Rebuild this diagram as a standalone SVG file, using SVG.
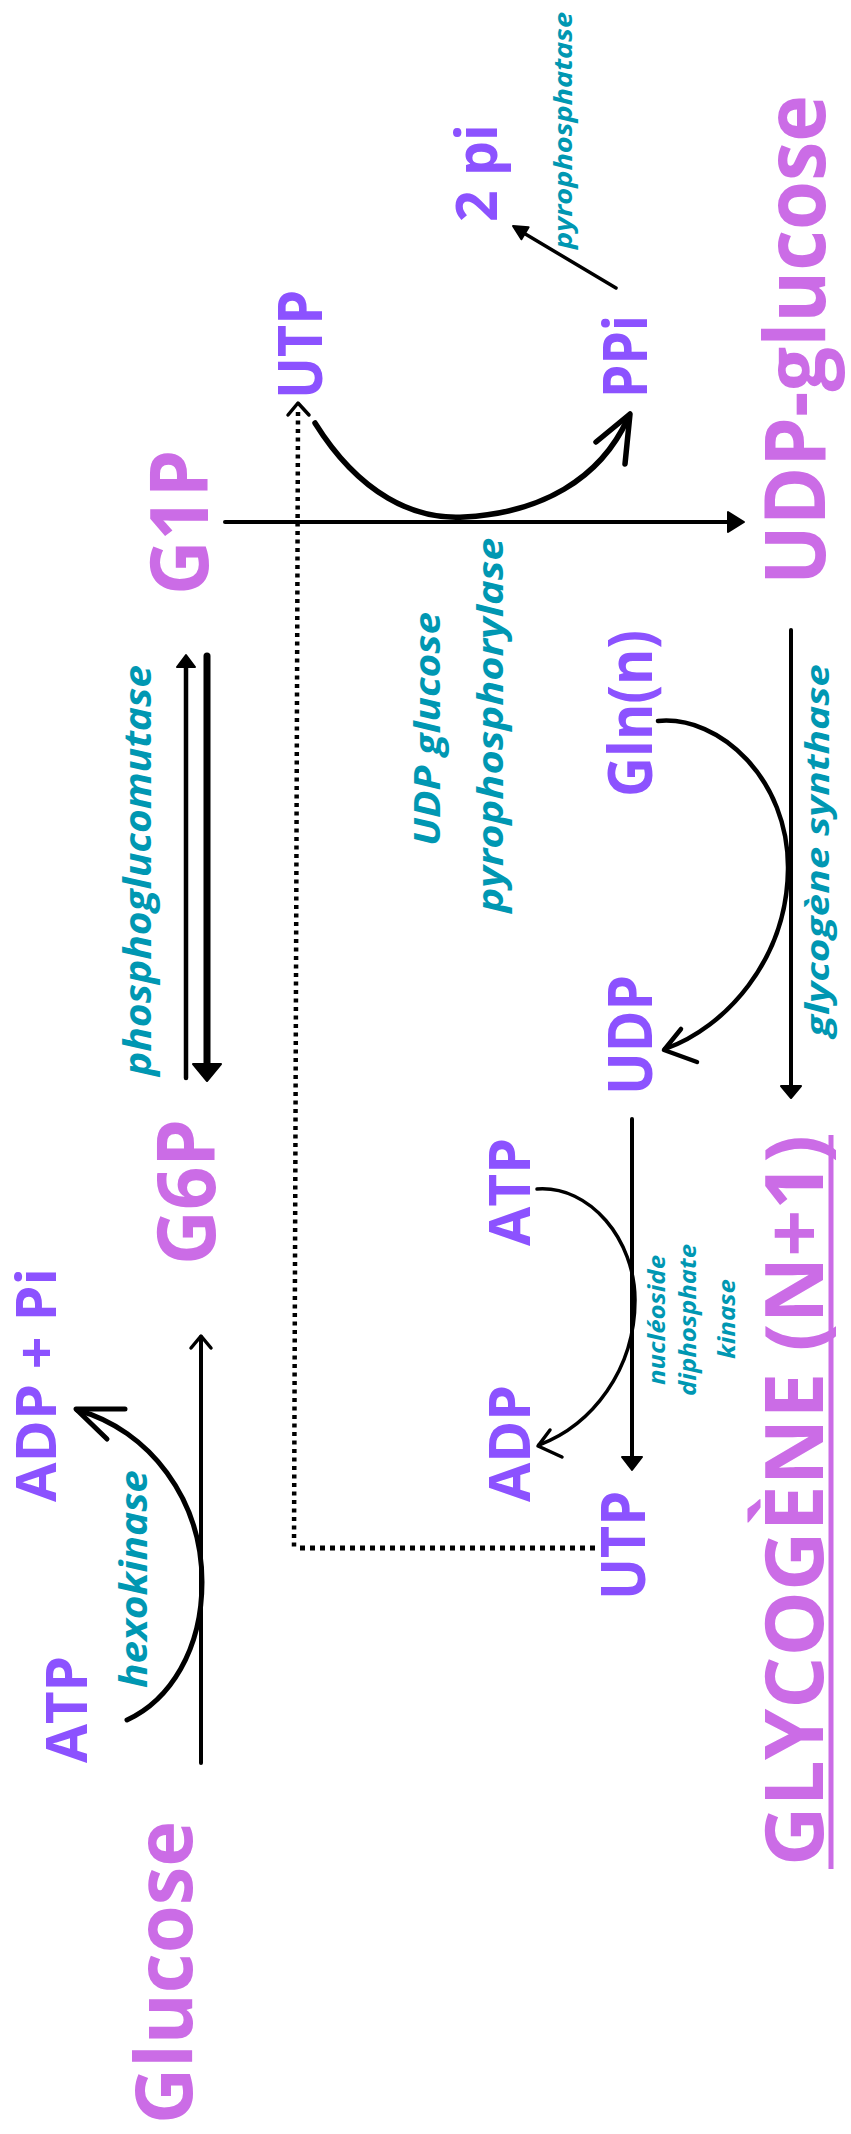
<svg xmlns="http://www.w3.org/2000/svg" width="851" height="2134" viewBox="0 0 851 2134">
<style>
.t{font-family:"Open Sans","Liberation Sans",sans-serif;font-weight:700;}
.pk{fill:#cb6ce6;}
.pu{fill:#8c52ff;}
.en{font-family:"Open Sans","Liberation Sans",sans-serif;font-weight:700;font-style:italic;fill:#0097b2;}
.ln{fill:none;stroke:#000;stroke-linecap:round;stroke-linejoin:round;}
.hd{fill:#000;stroke:#000;stroke-linejoin:round;stroke-width:2;}
.dot{fill:none;stroke:#000;stroke-linecap:butt;}
</style>
<rect width="851" height="2134" fill="#fff"/>
<g id="connectors">
  <!-- hexokinase -->
  <path class="ln" d="M201,1763 V1337" stroke-width="4"/>
  <path class="ln" d="M191,1348 L201,1336 L211,1348" stroke-width="3.5"/>
  <path class="ln" d="M127,1720 C170,1700 202,1650 202,1582 C202,1500 150,1430 77,1410" stroke-width="5"/>
  <path class="ln" d="M125,1409 L76,1409 L107,1439" stroke-width="5"/>
  <!-- phosphoglucomutase -->
  <path class="ln" d="M186,1078 V666" stroke-width="4.5"/>
  <polygon class="hd" points="186,655 177,667 195,667"/>
  <path class="ln" d="M207,656 V1066" stroke-width="7"/>
  <polygon class="hd" points="207,1081 193,1064 221,1064" stroke-width="3"/>
  <!-- G1P to UDP-glucose -->
  <path class="ln" d="M225,522 H730" stroke-width="4"/>
  <polygon class="hd" points="744,522 728,512 728,532"/>
  <!-- UTP to PPi -->
  <path class="ln" d="M315,423 C360,495 415,520 464,517 C540,513 600,480 628,418" stroke-width="5.5"/>
  <path class="ln" d="M596,442 L630,414 L625,464" stroke-width="5.5"/>
  <!-- PPi to 2 pi -->
  <path class="ln" d="M616,288 L522,232" stroke-width="3.5"/>
  <polygon class="hd" points="513,226 528.6,227.2 521.4,239.2"/>
  <!-- dotted UTP regeneration -->
  <path class="dot" d="M298,412 L294,1548" stroke-width="4.5" stroke-dasharray="4,4.5"/>
  <path class="dot" d="M300,1548 H597" stroke-width="5" stroke-dasharray="5,5"/>
  <path class="ln" d="M288,415 L298,403 L309,415" stroke-width="3.5"/>
  <!-- glycogene synthase -->
  <path class="ln" d="M791,630 V1086" stroke-width="4"/>
  <polygon class="hd" points="791,1098 781,1086 801,1086"/>
  <path class="ln" d="M658,721 C720,715 789,780 788,869 C787,960 725,1028 665,1049" stroke-width="4.5"/>
  <path class="ln" d="M681,1029 L664,1050 L697,1062" stroke-width="4.5"/>
  <!-- nucleoside diphosphate kinase -->
  <path class="ln" d="M632,1119 V1458" stroke-width="4"/>
  <polygon class="hd" points="632,1470 622,1457 642,1457"/>
  <path class="ln" d="M537,1189 C590,1185 635,1240 635,1300 C635,1370 592,1425 539,1445" stroke-width="3.5"/>
  <path class="ln" d="M550,1430 L538,1446 L562,1457" stroke-width="3.5"/>
</g>
<g id="glucose"><text class="t pk" font-size="78" transform="translate(192,2124) rotate(-90)" textLength="303" lengthAdjust="spacingAndGlyphs">Glucose</text></g>
<g id="atp1"><text class="t pu" font-size="58" transform="translate(87,1763) rotate(-90)" textLength="107" lengthAdjust="spacingAndGlyphs">ATP</text></g>
<g id="hexokinase"><text class="en" font-size="38" transform="translate(147,1688) rotate(-90)" textLength="218" lengthAdjust="spacingAndGlyphs">hexokinase</text></g>
<g id="adppi"><text class="t pu" font-size="56" transform="translate(56,1502) rotate(-90)" textLength="234" lengthAdjust="spacingAndGlyphs">ADP + Pi</text></g>
<g id="g6p"><text class="t pk" font-size="80" transform="translate(215,1265) rotate(-90)" textLength="146" lengthAdjust="spacingAndGlyphs">G6P</text></g>
<g id="phosphoglucomutase"><text class="en" font-size="38" transform="translate(151,1076) rotate(-90)" textLength="411" lengthAdjust="spacingAndGlyphs">phosphoglucomutase</text></g>
<g id="g1p"><text class="t pk" font-size="80" transform="translate(208,595) rotate(-90)" textLength="145" lengthAdjust="spacingAndGlyphs">G1P</text></g>
<g id="utp1"><text class="t pu" font-size="60" transform="translate(322,399) rotate(-90)" textLength="109" lengthAdjust="spacingAndGlyphs">UTP</text></g>
<g id="ppi"><text class="t pu" font-size="60" transform="translate(647,398) rotate(-90)" textLength="83" lengthAdjust="spacingAndGlyphs">PPi</text></g>
<g id="twopi"><text class="t pu" font-size="58" transform="translate(497,222) rotate(-90)" textLength="98" lengthAdjust="spacingAndGlyphs">2 pi</text></g>
<g id="pyrophosphatase"><text class="en" font-size="25" transform="translate(572,249) rotate(-90)" textLength="237" lengthAdjust="spacingAndGlyphs">pyrophosphatase</text></g>
<g id="udpglucose"><text class="t pk" font-size="84" transform="translate(825,585) rotate(-90)" textLength="490" lengthAdjust="spacingAndGlyphs">UDP-glucose</text></g>
<g id="udpgpp">
  <text class="en" font-size="36" text-anchor="middle" transform="translate(440,729) rotate(-90)" textLength="234" lengthAdjust="spacingAndGlyphs">UDP glucose</text>
  <text class="en" font-size="36" text-anchor="middle" transform="translate(503,725) rotate(-90)" textLength="375" lengthAdjust="spacingAndGlyphs">pyrophosphorylase</text>
</g>
<g id="glnn"><text class="t pu" font-size="60" transform="translate(652,797) rotate(-90)" textLength="167" lengthAdjust="spacingAndGlyphs">Gln(n)</text></g>
<g id="glycogenesynthase"><text class="en" font-size="32" transform="translate(829,1037) rotate(-90)" textLength="373" lengthAdjust="spacingAndGlyphs">glycogène synthase</text></g>
<g id="udp"><text class="t pu" font-size="60" transform="translate(652,1095) rotate(-90)" textLength="120" lengthAdjust="spacingAndGlyphs">UDP</text></g>
<g id="atp2"><text class="t pu" font-size="58" transform="translate(530,1246) rotate(-90)" textLength="108" lengthAdjust="spacingAndGlyphs">ATP</text></g>
<g id="adp2"><text class="t pu" font-size="58" transform="translate(530,1502) rotate(-90)" textLength="117" lengthAdjust="spacingAndGlyphs">ADP</text></g>
<g id="utp2"><text class="t pu" font-size="60" transform="translate(645,1600) rotate(-90)" textLength="109" lengthAdjust="spacingAndGlyphs">UTP</text></g>
<g id="ndpk">
  <text class="en" font-size="24" text-anchor="middle" transform="translate(665,1320) rotate(-90)" textLength="130" lengthAdjust="spacingAndGlyphs">nucléoside</text>
  <text class="en" font-size="24" text-anchor="middle" transform="translate(696,1320) rotate(-90)" textLength="152" lengthAdjust="spacingAndGlyphs">diphosphate</text>
  <text class="en" font-size="24" text-anchor="middle" transform="translate(735,1319) rotate(-90)" textLength="80" lengthAdjust="spacingAndGlyphs">kinase</text>
</g>
<g id="glycogene">
  <text class="t pk" font-size="81" transform="translate(823,1866) rotate(-90)" textLength="731" lengthAdjust="spacingAndGlyphs">GLYCOGÈNE (N+1)</text>
  <line x1="831" y1="1135" x2="831" y2="1869" stroke="#cb6ce6" stroke-width="5"/>
</g>
</svg>
